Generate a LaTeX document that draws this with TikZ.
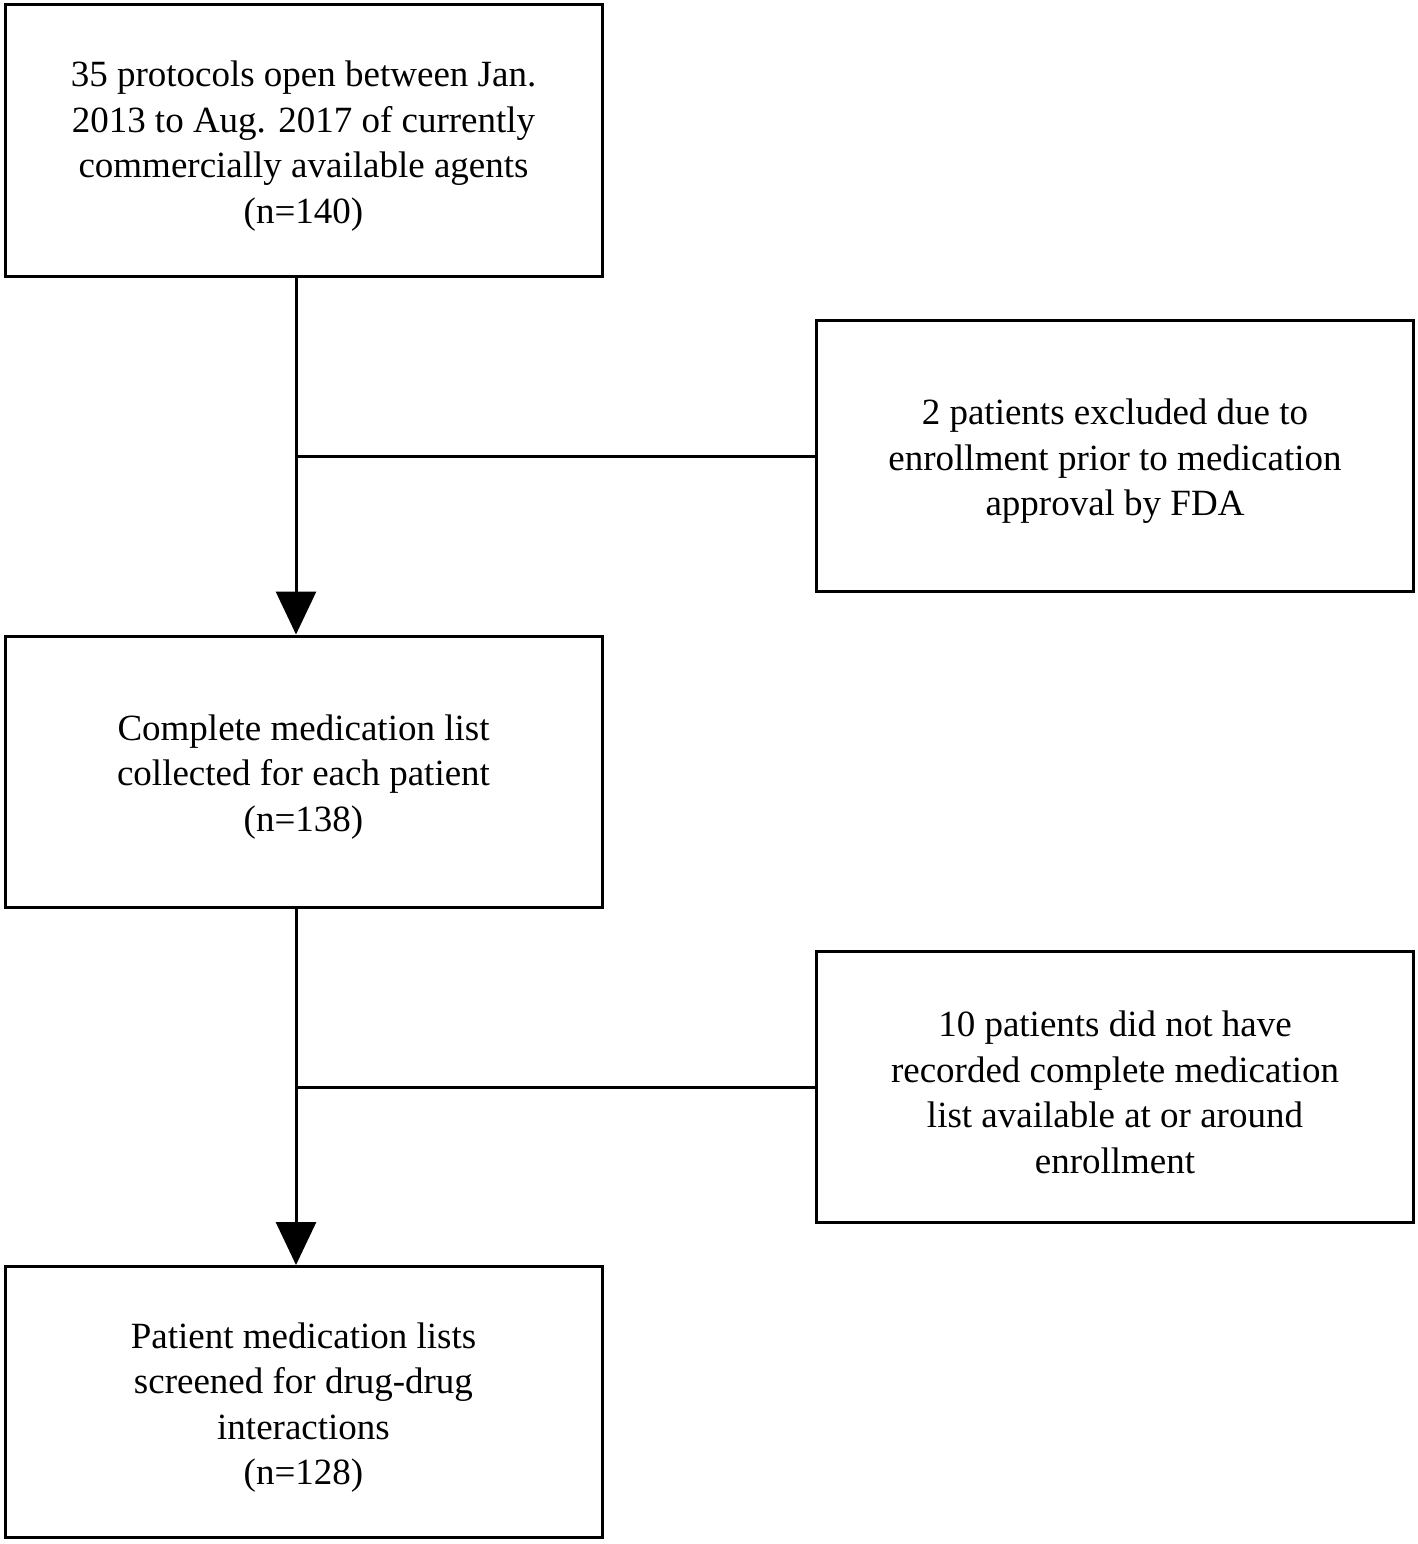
\documentclass[tikz,border=0pt]{standalone}
\usepackage{fontspec}
\setmainfont{Liberation Serif}
\usetikzlibrary{arrows.meta}
\begin{document}
\begin{tikzpicture}[x=1pt,y=-1pt,
  box/.style={draw,line width=3pt,minimum width=597pt,minimum height=271pt,inner sep=0pt},
  txt/.style={align=center,inner sep=0pt,yshift=-5.5pt,font=\fontsize{37}{45.5}\selectfont},
  conn/.style={line width=3pt},
  arr/.style={conn,-{Triangle[width=40pt,length=43pt]}}]
\useasboundingbox (0,0) rectangle (1418,1544);
\node[box,label={[txt]center:{35 protocols open between Jan.\\2013 to Aug. 2017 of currently\\commercially available agents\\(n=140)}}] (b1) at (303.5,140.5) {};
\node[box,label={[txt]center:{2 patients excluded due to\\enrollment prior to medication\\approval by FDA}}] (e1) at (1115,456) {};
\node[box,label={[txt]center:{Complete medication list\\collected for each patient\\(n=138)}}] (b2) at (303.5,771.5) {};
\node[box,label={[txt]center:{10 patients did not have\\recorded complete medication\\list available at or around\\enrollment}}] (e2) at (1115,1087) {};
\node[box,label={[txt]center:{Patient medication lists\\screened for drug-drug\\interactions\\(n=128)}}] (b3) at (303.5,1402) {};
\coordinate (t1) at ([xshift=-7.5pt]b1.south);
\coordinate (t2) at ([xshift=-7.5pt]b2.south);
\draw[arr] (t1) -- (t1 |- b2.north);
\draw[conn] (e1.west) -- (e1.west -| t1);
\draw[arr] (t2) -- (t2 |- b3.north);
\draw[conn] (e2.west) -- (e2.west -| t2);
\end{tikzpicture}
\end{document}
